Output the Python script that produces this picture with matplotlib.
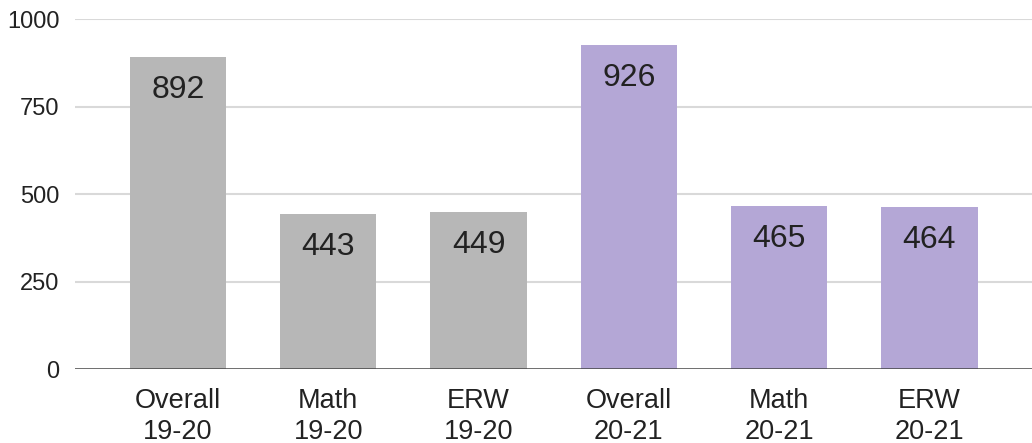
import numpy as np
import matplotlib
matplotlib.use("Agg")
from matplotlib import pyplot as plt

categories = ["Overall\n19-20", "Math\n19-20", "ERW\n19-20",
              "Overall\n20-21", "Math\n20-21", "ERW\n20-21"]
scores = [892, 443, 449, 926, 465, 464]
bar_colors = ["#b7b7b7", "#b7b7b7", "#b7b7b7", "#b4a7d6", "#b4a7d6", "#b4a7d6"]
yticks = [0, 250, 500, 750, 1000]

plt.rcParams['font.family'] = ['Liberation Sans', 'DejaVu Sans']

fig = plt.figure(figsize=(10.32, 4.43), dpi=100)
ax = fig.add_axes([0.0727, 0.167, 0.927, 0.790])

x = np.arange(len(categories))
ax.bar(x, scores, width=0.64, color=bar_colors, zorder=2)
for xi, v in zip(x, scores):
    ax.annotate(str(v), (xi, v), xytext=(0, -13), textcoords='offset points',
                ha='center', va='top', fontsize=23, color='#222222', zorder=3)

ax.set_xlim(-0.685, 5.68)
ax.set_ylim(0, 1000)
ax.set_yticks(yticks)
ax.set_yticklabels([str(t) for t in yticks], fontsize=17, color='#222222')
ax.set_xticks(x)
ax.set_xticklabels(categories, fontsize=19.5, color='#222222', linespacing=1.22)
ax.tick_params(axis='y', length=0, pad=11)
ax.tick_params(axis='x', length=0, pad=14)

for t in yticks[1:]:
    ax.axhline(t, color='#d9d9d9', linewidth=1.5, zorder=1)
ax.axhline(0, color='#444444', linewidth=1.8, zorder=3)

for s in ax.spines.values():
    s.set_visible(False)

fig.savefig("out.png", dpi=100)
